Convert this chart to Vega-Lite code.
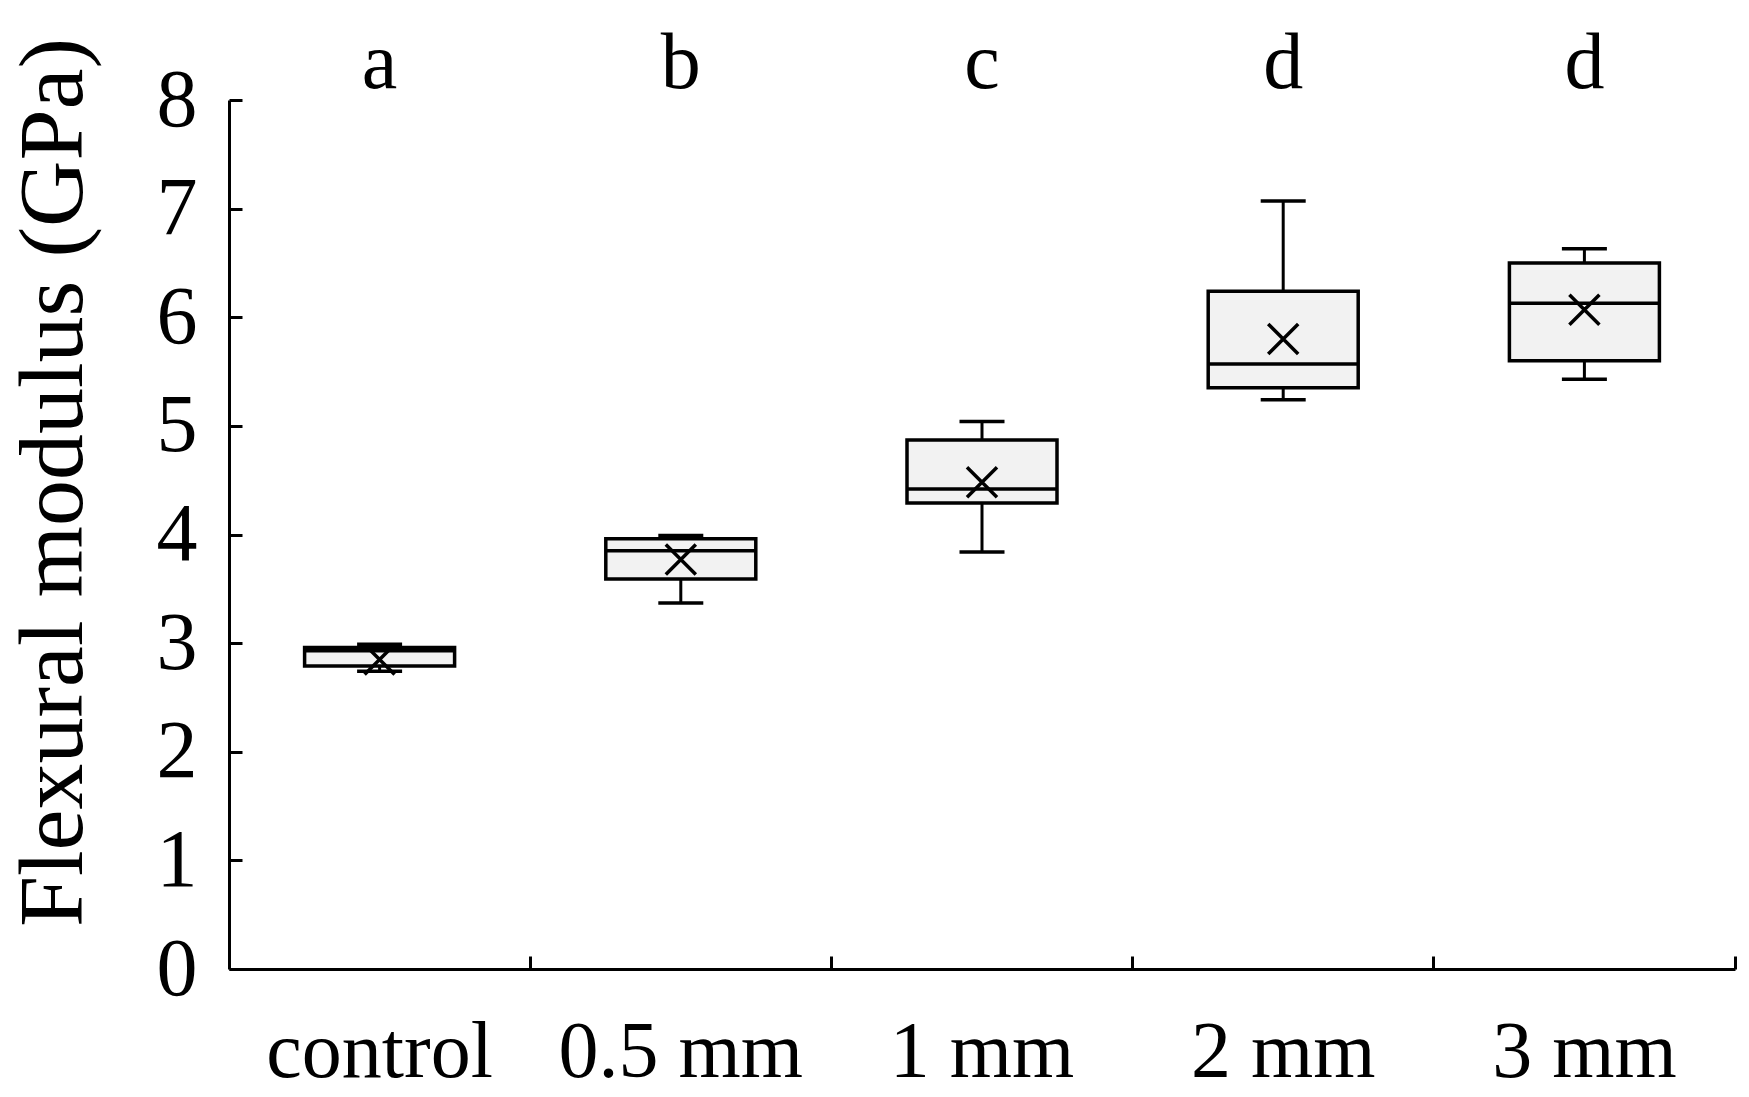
{
  "$schema": "https://vega.github.io/schema/vega-lite/v6.json",
  "autosize": "none",
  "width": 1506,
  "height": 869,
  "padding": {"left": 229, "top": 100, "right": 14, "bottom": 128},
  "background": "white",
  "config": {
    "view": {"stroke": null},
    "font": "Liberation Serif",
    "axis": {
      "labelFont": "Liberation Serif",
      "titleFont": "Liberation Serif",
      "labelColor": "black",
      "titleColor": "black",
      "domainColor": "black",
      "tickColor": "black",
      "domainWidth": 3,
      "tickWidth": 3,
      "grid": false,
      "labelLimit": 0
    }
  },
  "data": {
    "values": [
      {"group": "control", "lower": 2.74, "q1": 2.79, "median": 2.93, "q3": 2.96, "upper": 2.99, "mean": 2.85, "letter": "a"},
      {"group": "0.5 mm", "lower": 3.37, "q1": 3.59, "median": 3.85, "q3": 3.96, "upper": 3.99, "mean": 3.77, "letter": "b"},
      {"group": "1 mm", "lower": 3.84, "q1": 4.29, "median": 4.42, "q3": 4.87, "upper": 5.04, "mean": 4.48, "letter": "c"},
      {"group": "2 mm", "lower": 5.24, "q1": 5.35, "median": 5.57, "q3": 6.24, "upper": 7.07, "mean": 5.80, "letter": "d"},
      {"group": "3 mm", "lower": 5.43, "q1": 5.60, "median": 6.13, "q3": 6.50, "upper": 6.63, "mean": 6.07, "letter": "d"}
    ]
  },
  "encoding": {
    "x": {
      "field": "group",
      "type": "nominal",
      "sort": null,
      "scale": {"paddingInner": 0, "paddingOuter": 0},
      "axis": {
        "title": null,
        "labelAngle": 0,
        "labelFontSize": 80,
        "labelPadding": 57,
        "labelBaseline": "top",
        "tickSize": -13,
        "bandPosition": 1,
        "tickExtra": false
      }
    }
  },
  "layer": [
    {
      "mark": {"type": "rule", "color": "black", "strokeWidth": 3},
      "encoding": {
        "y": {"field": "lower", "type": "quantitative", "scale": {"domain": [0, 8], "nice": false, "zero": true},
          "axis": {
            "title": "Flexural modulus (GPa)",
            "titleFontSize": 92,
            "titleFontWeight": "normal",
            "titleAngle": 270,
            "titleAlign": "center",
            "titleBaseline": "alphabetic",
            "titleX": -148,
            "titleY": 382,
            "labelFontSize": 82,
            "labelPadding": 45,
            "format": "d",
            "values": [0, 1, 2, 3, 4, 5, 6, 7, 8],
            "tickSize": -13
          }},
        "y2": {"field": "q1"}
      }
    },
    {
      "mark": {"type": "rule", "color": "black", "strokeWidth": 3},
      "encoding": {
        "y": {"field": "q3", "type": "quantitative"},
        "y2": {"field": "upper"}
      }
    },
    {
      "mark": {"type": "tick", "color": "black", "thickness": 3.5, "size": 45, "opacity": 1},
      "encoding": {"y": {"field": "lower", "type": "quantitative"}}
    },
    {
      "mark": {"type": "tick", "color": "black", "thickness": 3.5, "size": 45, "opacity": 1},
      "encoding": {"y": {"field": "upper", "type": "quantitative"}}
    },
    {
      "mark": {"type": "bar", "size": 150, "fill": "#f2f2f2", "stroke": "black", "strokeWidth": 3.5},
      "encoding": {
        "y": {"field": "q1", "type": "quantitative"},
        "y2": {"field": "q3"}
      }
    },
    {
      "mark": {"type": "tick", "color": "black", "thickness": 3.5, "size": 150, "opacity": 1},
      "encoding": {"y": {"field": "median", "type": "quantitative"}}
    },
    {
      "mark": {"type": "point", "shape": "M-1,-1L1,1M-1,1L1,-1", "size": 900, "filled": false, "stroke": "black", "strokeWidth": 3.5, "opacity": 1},
      "encoding": {"y": {"field": "mean", "type": "quantitative"}}
    },
    {
      "mark": {"type": "text", "fontSize": 80, "font": "Liberation Serif", "color": "black", "baseline": "alphabetic", "dy": -12},
      "encoding": {
        "y": {"datum": 8, "type": "quantitative"},
        "text": {"field": "letter"}
      }
    }
  ]
}
